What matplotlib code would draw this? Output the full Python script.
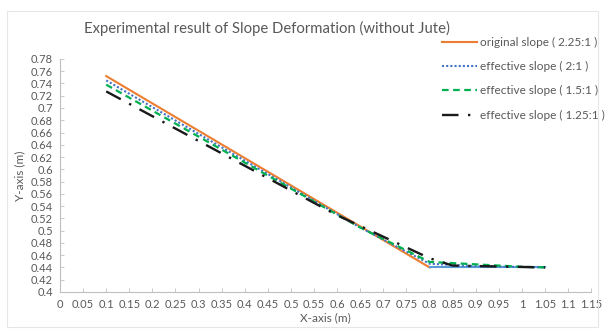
import matplotlib
matplotlib.use("Agg")
import matplotlib.pyplot as plt
import numpy as np
from matplotlib.patches import Rectangle

# Slope profiles (x in m, y in m)
orig_x = [0.1, 0.8]
orig_y = [0.752, 0.44]
base_x = [0.8, 1.05]
base_y = [0.44, 0.44]
eff2_x = [0.1, 0.65, 0.8, 0.9, 1.05]
eff2_y = [0.745, 0.505, 0.446, 0.442, 0.44]
eff15_x = [0.1, 0.65, 0.8, 1.0, 1.05]
eff15_y = [0.738, 0.505, 0.449, 0.441, 0.44]
eff125_x = [0.1, 0.6, 0.8, 0.85, 1.05]
eff125_y = [0.727, 0.525, 0.455, 0.443, 0.44]

labels = ["original slope ( 2.25:1 )", "effective slope ( 2:1 )",
          "effective slope ( 1.5:1 )", "effective slope ( 1.25:1 )"]

x_ticks = np.round(np.arange(0, 1.151, 0.05), 2)
y_ticks = np.round(np.arange(0.4, 0.781, 0.02), 2)

plt.rcParams['font.family'] = ['Lato', 'DejaVu Sans']
gray = "#595959"

fig = plt.figure(figsize=(6.05, 3.31), dpi=100)
fig.patches.append(Rectangle((0.012, 0.012), 0.976, 0.956, transform=fig.transFigure,
                             fill=False, edgecolor="#e6e6e6", linewidth=0.8))
ax = fig.add_axes([0.0992, 0.118, 0.878, 0.704])

l1, = ax.plot(orig_x, orig_y, color="#ED7D31", lw=1.5, label=labels[0])
ax.plot(base_x, base_y, color="#5B9BD5", lw=1.5)
l2, = ax.plot(eff2_x, eff2_y, color="#4472C4", lw=1.5, ls=(0, (1, 1)), label=labels[1])
l3, = ax.plot(eff15_x, eff15_y, color="#00B050", lw=1.6, ls=(0, (3, 2)), label=labels[2])
l4, = ax.plot(eff125_x, eff125_y, color="#1a1a1a", lw=1.7, ls=(0, (7, 4, 1, 4)), label=labels[3])

ax.set_xlim(0, 1.15)
ax.set_ylim(0.4, 0.78)
ax.set_xticks(x_ticks)
ax.set_xticklabels([f"{v:g}" for v in x_ticks])
ax.set_yticks(y_ticks)
ax.set_yticklabels([f"{v:g}" for v in y_ticks])
ax.tick_params(direction="in", length=3, width=0.6, colors="#bfbfbf",
               labelcolor=gray, labelsize=8, pad=5)
for s in ("top", "right"):
    ax.spines[s].set_visible(False)
for s in ("left", "bottom"):
    ax.spines[s].set_color("#bfbfbf")
    ax.spines[s].set_linewidth(0.8)

ax.set_xlabel("X-axis (m)", fontsize=8.5, color=gray, labelpad=2)
ax.set_ylabel("Y-axis (m)", fontsize=8.5, color=gray, labelpad=4)

fig.text(0.441, 0.915, "Experimental result of Slope Deformation (without Jute)",
         ha="center", va="center", fontsize=10.7, color=gray)

leg = fig.legend(handles=[l1, l2, l3, l4], loc="upper left",
                 bbox_to_anchor=(0.722, 0.903), frameon=False, fontsize=8.5,
                 handlelength=3.0, handletextpad=0.3, labelspacing=1.12,
                 borderaxespad=0.0)
for t in leg.get_texts():
    t.set_color(gray)

fig.savefig("out.png", dpi=100)
